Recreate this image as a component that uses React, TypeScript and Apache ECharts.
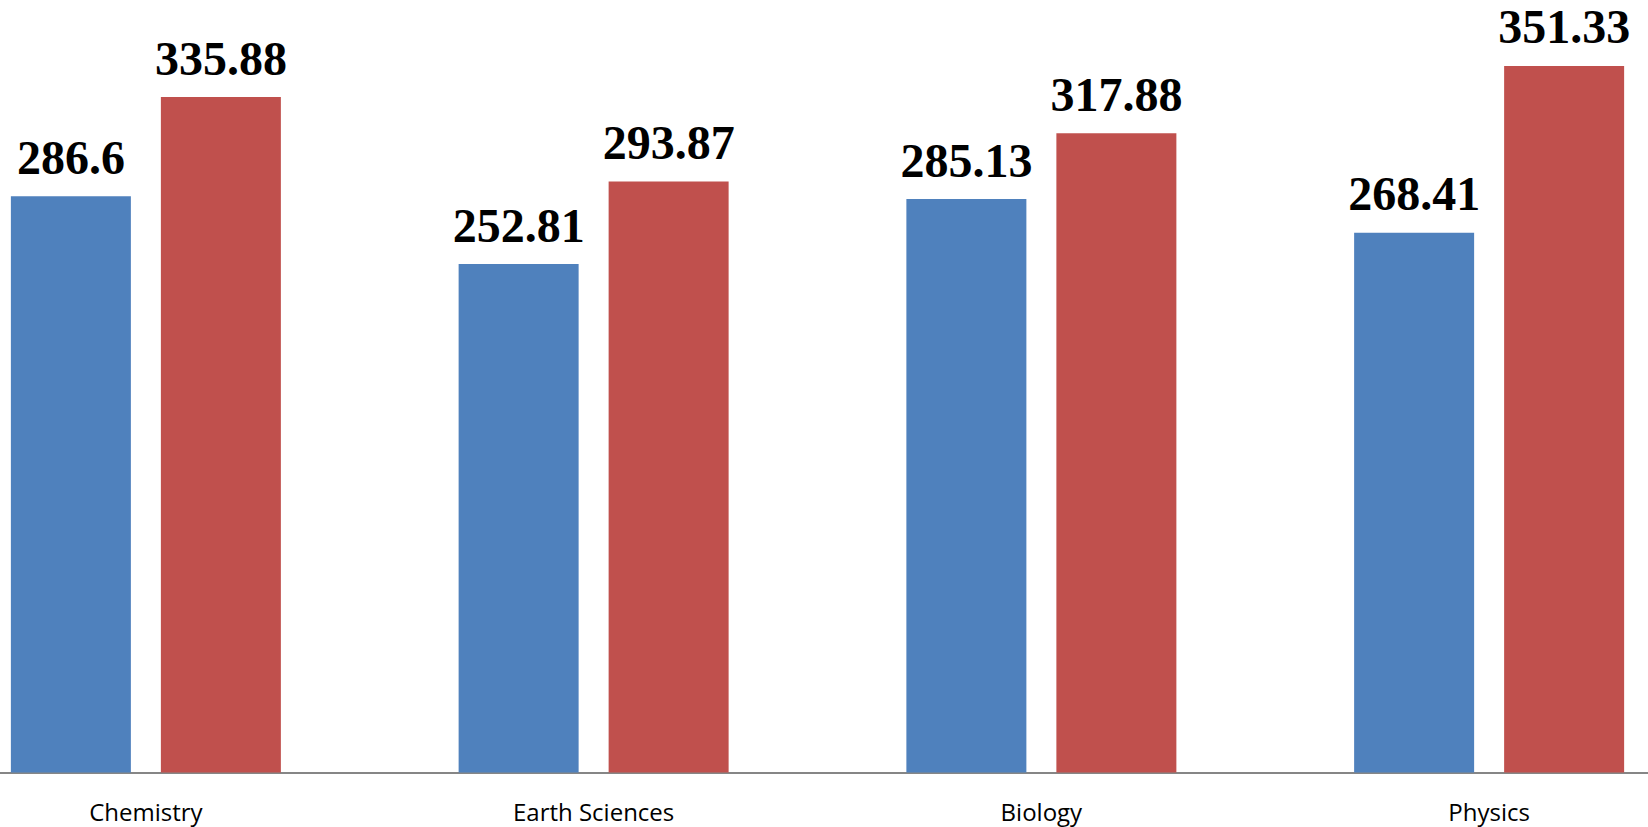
import React, { useEffect, useRef } from "react";
import * as echarts from "echarts";

const categories = ["Chemistry", "Earth Sciences", "Biology", "Physics"];
const seriesA = [286.6, 252.81, 285.13, 268.41];
const seriesB = [335.88, 293.87, 317.88, 351.33];

export default function App() {
  const ref = useRef<HTMLDivElement>(null);
  useEffect(() => {
    if (!ref.current) return;
    const chart = echarts.init(ref.current, undefined, { renderer: "svg" });
    const valueLabel = {
      show: true,
      position: "top",
      distance: 15,
      fontFamily: "Liberation Serif",
      fontWeight: "bold",
      fontSize: 48,
      color: "#000",
    };
    chart.setOption({
      animation: false,
      backgroundColor: "#fff",
      grid: { left: 0, right: 0, top: 8.3, height: 764.2, containLabel: false },
      xAxis: {
        type: "category",
        data: categories,
        axisLine: { show: true, lineStyle: { color: "#868686", width: 2 } },
        axisTick: { show: false },
        axisLabel: {
          margin: 27,
          fontFamily: "Open Sans",
          fontSize: 24,
          color: "#000",
        },
      },
      yAxis: {
        type: "value",
        min: 0,
        max: 380,
        show: false,
        splitLine: { show: false },
      },
      series: [
        {
          type: "bar",
          data: seriesA,
          barWidth: 120,
          barGap: "25%",
          itemStyle: { color: "#4F81BD" },
          label: valueLabel,
        },
        {
          type: "bar",
          data: seriesB,
          barWidth: 120,
          barGap: "25%",
          itemStyle: { color: "#C0504D" },
          label: valueLabel,
        },
      ],
    });
    return () => chart.dispose();
  }, []);
  return (
    <div
      style={{
        position: "fixed",
        left: 0,
        top: 0,
        width: 1648,
        height: 827,
        overflow: "hidden",
        background: "#fff",
      }}
    >
      <div
        ref={ref}
        style={{ position: "absolute", left: -78, top: 0, width: 1791, height: 827 }}
      />
    </div>
  );
}
